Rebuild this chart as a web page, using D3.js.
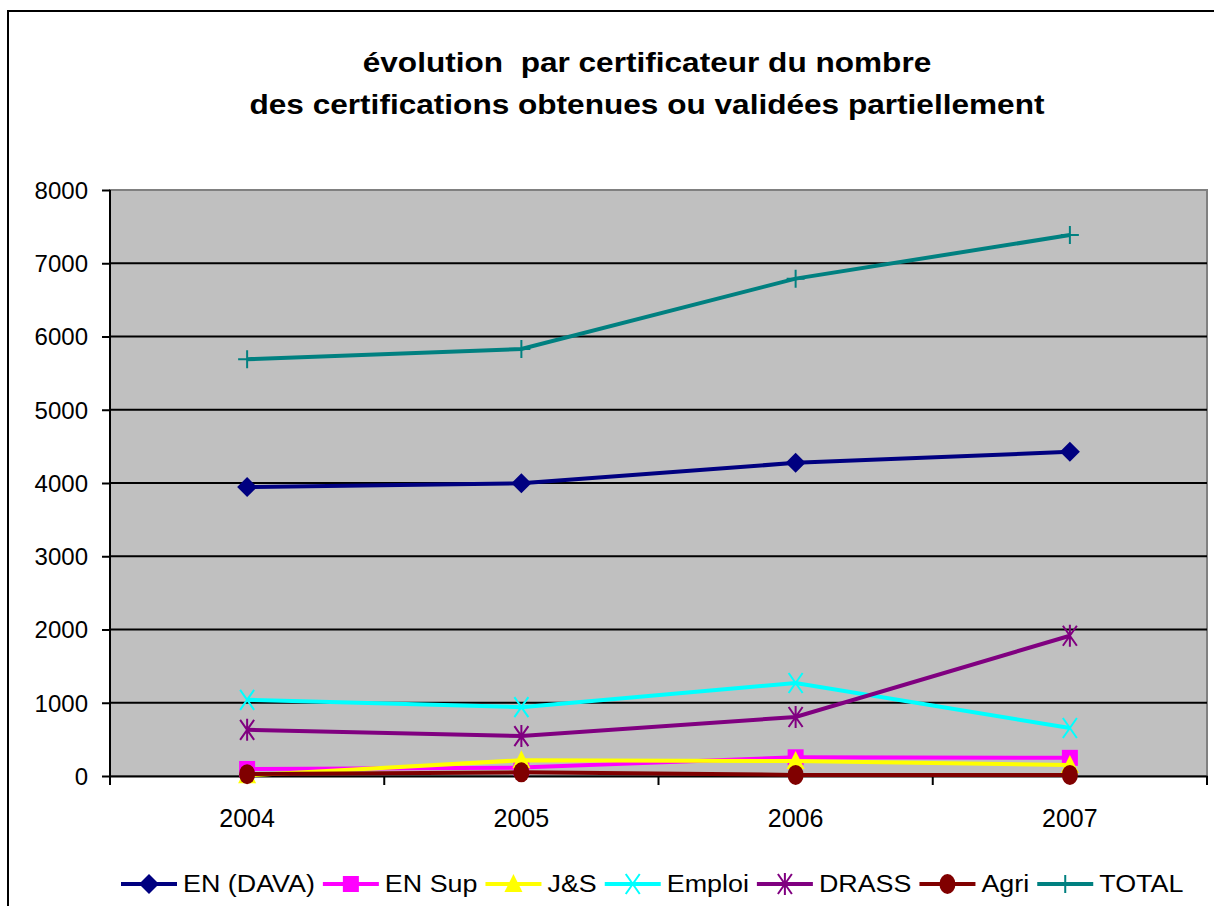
<!DOCTYPE html>
<html>
<head>
<meta charset="utf-8">
<title>évolution par certificateur</title>
<script src="https://cdnjs.cloudflare.com/ajax/libs/d3/7.8.5/d3.min.js"></script>
<style type="text/css">
body { margin: 0; background: #fff; }
svg { display: block; font-family: Arial, "Liberation Sans", sans-serif; }
</style>
</head>
<body>
<div id="chart"></div>
<script>
// data
var years = ['2004', '2005', '2006', '2007'];
var enDava = [3945, 3995, 4275, 4425];
var enSup = [96, 115, 255, 248];
var js = [10, 215, 205, 150];
var emploi = [1040, 940, 1270, 655];
var drass = [630, 545, 805, 1915];
var agri = [25, 50, 15, 15];
var total = [5690, 5830, 6790, 7385];
var yTicks = [0, 1000, 2000, 3000, 4000, 5000, 6000, 7000, 8000];
var titleLines = ['évolution  par certificateur du nombre',
                  'des certifications obtenues ou validées partiellement'];

var series = [
  {name: 'EN (DAVA)', values: enDava, color: '#000080', marker: 'diamond'},
  {name: 'EN Sup', values: enSup, color: '#ff00ff', marker: 'square'},
  {name: 'J&S', values: js, color: '#ffff00', marker: 'triangle'},
  {name: 'Emploi', values: emploi, color: '#00ffff', marker: 'x'},
  {name: 'DRASS', values: drass, color: '#800080', marker: 'star'},
  {name: 'Agri', values: agri, color: '#800000', marker: 'circle'},
  {name: 'TOTAL', values: total, color: '#008080', marker: 'plus'}
];

var width = 1214, height = 906;
var plot = {left: 110, right: 1207, top: 190, bottom: 776};

var svg = d3.select('#chart').append('svg')
    .attr('width', width)
    .attr('height', height);

// outer frame (runs off the page on the right and bottom)
svg.append('rect')
    .attr('x', 8).attr('y', 11)
    .attr('width', 1230).attr('height', 920)
    .attr('fill', '#fff')
    .attr('stroke', '#000')
    .attr('stroke-width', 2);

// title (the original text is drawn a bit wide, hence the x stretch)
svg.append('g').selectAll('text')
    .data(titleLines)
    .enter().append('text')
    .attr('transform', function(d, i) {
      return 'translate(647,' + (72 + i * 42) + ') scale(1.17,1)';
    })
    .attr('text-anchor', 'middle')
    .attr('font-size', 27)
    .attr('font-weight', 'bold')
    .style('white-space', 'pre')
    .text(function(d) { return d; });

var x = d3.scaleBand().domain(years).range([plot.left, plot.right]);
var y = d3.scaleLinear().domain([0, 8000]).range([plot.bottom, plot.top]);

// plot background
svg.append('rect')
    .attr('x', plot.left).attr('y', plot.top)
    .attr('width', plot.right - plot.left)
    .attr('height', plot.bottom - plot.top)
    .attr('fill', '#c0c0c0')
    .attr('stroke', '#808080')
    .attr('stroke-width', 2);

// gridlines
svg.append('g').selectAll('line')
    .data(yTicks.slice(1, -1))
    .enter().append('line')
    .attr('x1', plot.left).attr('x2', plot.right)
    .attr('y1', function(d) { return y(d); })
    .attr('y2', function(d) { return y(d); })
    .attr('stroke', '#000')
    .attr('stroke-width', 2);

// y axis
var yAxis = svg.append('g')
    .attr('transform', 'translate(' + plot.left + ',0)')
    .call(d3.axisLeft(y).tickValues(yTicks).tickSize(8).tickPadding(14).tickFormat(d3.format('d')));
yAxis.select('.domain').attr('stroke', '#000').attr('stroke-width', 2).attr('d', 'M0,' + plot.top + 'V' + (plot.bottom + 8));
yAxis.selectAll('.tick line').attr('stroke', '#000').attr('stroke-width', 2);
yAxis.selectAll('.tick text')
    .attr('font-size', 24)
    .attr('font-family', 'Arial, "Liberation Sans", sans-serif')
    .attr('fill', '#000')
    .attr('dy', '0.35em');

// x axis
var xAxis = svg.append('g')
    .attr('transform', 'translate(0,' + plot.bottom + ')')
    .call(d3.axisBottom(x).tickSize(0).tickPadding(33));
xAxis.select('.domain').attr('stroke', '#000').attr('stroke-width', 2);
xAxis.selectAll('.tick text')
    .attr('font-size', 25)
    .attr('font-family', 'Arial, "Liberation Sans", sans-serif')
    .attr('fill', '#000');
xAxis.selectAll('line.cat-tick')
    .data(years.concat(['end']))
    .enter().append('line')
    .attr('class', 'cat-tick')
    .attr('x1', function(d, i) { return plot.left + i * x.step(); })
    .attr('x2', function(d, i) { return plot.left + i * x.step(); })
    .attr('y1', 0).attr('y2', 9)
    .attr('stroke', '#000')
    .attr('stroke-width', 2);

// marker drawing
function drawMarker(g, type, color) {
  if (type === 'diamond') {
    g.append('path').attr('d', 'M0,-10L10,0L0,10L-10,0Z').attr('fill', color);
  } else if (type === 'square') {
    g.append('rect').attr('x', -8).attr('y', -8).attr('width', 16).attr('height', 16).attr('fill', color);
  } else if (type === 'triangle') {
    g.append('path').attr('d', 'M0,-10L9,8L-9,8Z').attr('fill', color);
  } else if (type === 'circle') {
    g.append('ellipse').attr('rx', 8).attr('ry', 10).attr('fill', color);
  } else if (type === 'x') {
    g.append('path').attr('d', 'M-7,-10L7,10M7,-10L-7,10').attr('stroke', color).attr('stroke-width', 2).attr('fill', 'none');
  } else if (type === 'star') {
    g.append('path').attr('d', 'M-7,-10L7,10M7,-10L-7,10M0,-11V11').attr('stroke', color).attr('stroke-width', 2).attr('fill', 'none');
  } else if (type === 'plus') {
    g.append('path').attr('d', 'M-9,0H9M0,-9V9').attr('stroke', color).attr('stroke-width', 2).attr('fill', 'none');
  }
}

var line = d3.line()
    .x(function(d, i) { return x(years[i]) + x.bandwidth() / 2; })
    .y(function(d) { return y(d); });

var lines = svg.append('g');
series.forEach(function(s) {
  var g = lines.append('g');
  g.append('path')
      .attr('d', line(s.values))
      .attr('fill', 'none')
      .attr('stroke', s.color)
      .attr('stroke-width', 4);
  g.selectAll('g.mk')
      .data(s.values)
      .enter().append('g')
      .attr('class', 'mk')
      .attr('transform', function(d, i) {
        return 'translate(' + (x(years[i]) + x.bandwidth() / 2) + ',' + y(d) + ')';
      })
      .each(function() { drawMarker(d3.select(this), s.marker, s.color); });
});

// legend
var legendStretch = 1.12;
var legend = svg.append('g').attr('transform', 'translate(121,884)');
var lx = 0;
series.forEach(function(s) {
  var item = legend.append('g').attr('transform', 'translate(' + lx + ',0)');
  item.append('line')
      .attr('x1', 0).attr('x2', 56)
      .attr('stroke', s.color)
      .attr('stroke-width', 4);
  drawMarker(item.append('g').attr('transform', 'translate(28,0)'), s.marker, s.color);
  var t = item.append('text')
      .attr('transform', 'translate(62,0) scale(' + legendStretch + ',1)')
      .attr('dy', '0.35em')
      .attr('font-size', 24)
      .text(s.name);
  lx += 62 + t.node().getComputedTextLength() * legendStretch + 8;
});
</script>
</body>
</html>
